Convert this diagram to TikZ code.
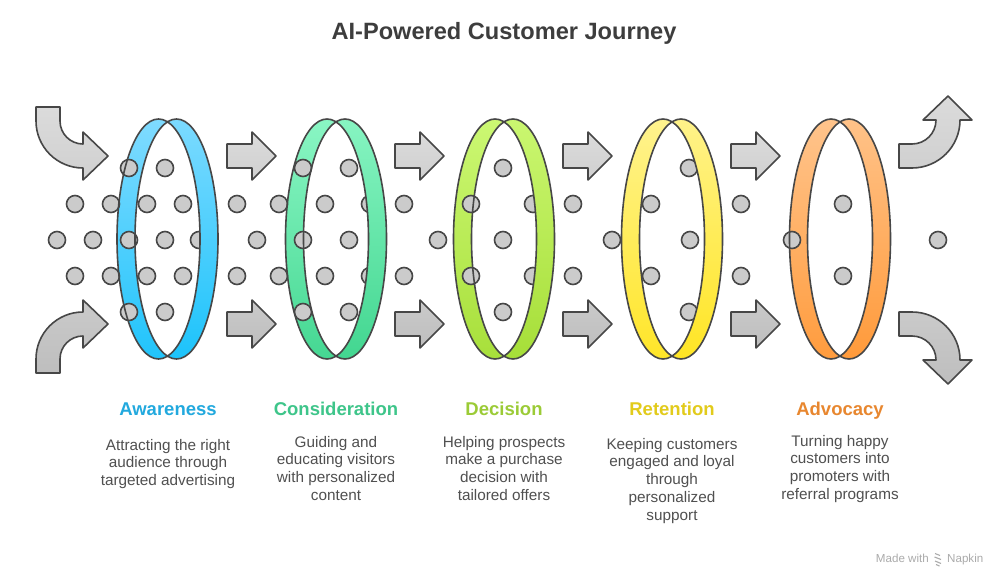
\documentclass[tikz,border=0pt]{standalone}
\usepackage{fontspec}
\setmainfont{Liberation Sans}
\definecolor{edgec}{HTML}{474747}
\definecolor{dotc}{HTML}{CBCBCB}
\definecolor{titlec}{HTML}{3D3D3D}
\definecolor{descc}{HTML}{505050}
\definecolor{markc}{HTML}{ABABAB}
\definecolor{upA}{HTML}{DBDBDB}
\definecolor{upB}{HTML}{D0D0D0}
\definecolor{loA}{HTML}{CACACA}
\definecolor{loB}{HTML}{BEBEBE}
\definecolor{blueA}{HTML}{80DBFF}
\definecolor{blueB}{HTML}{1CC3FB}
\definecolor{greenA}{HTML}{8AF6C4}
\definecolor{greenB}{HTML}{42D690}
\definecolor{limeA}{HTML}{CCF873}
\definecolor{limeB}{HTML}{A6DE38}
\definecolor{yelA}{HTML}{FFF38E}
\definecolor{yelB}{HTML}{FFE524}
\definecolor{oraA}{HTML}{FFC48C}
\definecolor{oraB}{HTML}{FF9A3A}
\definecolor{lblblue}{HTML}{22A9DE}
\definecolor{lblgreen}{HTML}{3EC58A}
\definecolor{lbllime}{HTML}{9BCB36}
\definecolor{lblyel}{HTML}{E2CB1B}
\definecolor{lblora}{HTML}{E8872F}
\tikzset{
  outl/.style={draw=edgec, line width=1.6pt, line join=round},
  dotnode/.style={circle, fill=dotc, draw=edgec, line width=1.6pt, minimum size=17pt, inner sep=0pt},
  uparrow/.style={outl, top color=upA, bottom color=upB},
  loarrow/.style={outl, top color=loA, bottom color=loB},
  stagelabel/.style={font=\bfseries\fontsize{18.5}{22}\selectfont, anchor=base, inner sep=0pt},
  desc/.style={font=\fontsize{15.3}{17.7}\selectfont, color=descc, align=center, anchor=north, inner sep=0pt},
}
% ring pieces: #1 = centre x, #2 top colour, #3 bottom colour
\newcommand\ringLeftBand[3]{%
  \shade[top color=#2, bottom color=#3] (#1,356.2)
    arc[start angle=77.47, end angle=282.53, x radius=41.5, y radius=120]
    arc[start angle=257.47, end angle=102.53, x radius=41.5, y radius=120] -- cycle;}
\newcommand\ringRightBand[3]{%
  \shade[top color=#2, bottom color=#3] (#1,121.8)
    arc[start angle=-102.53, end angle=102.53, x radius=41.5, y radius=120]
    arc[start angle=77.47, end angle=-77.47, x radius=41.5, y radius=120] -- cycle;}
\newcommand\ringOutline[1]{%
  \draw[outl] (#1-9,239) ellipse[x radius=41.5, y radius=120];
  \draw[outl] (#1+9,239) ellipse[x radius=41.5, y radius=120];}
\newcommand\straightArrow[3]{% x0, centre y, style
  \path[#3] (#1,#2-12) -- (#1+25,#2-12) -- (#1+25,#2-24) -- (#1+49,#2) -- (#1+25,#2+24) -- (#1+25,#2+12) -- (#1,#2+12) -- cycle;}
\begin{document}
\begin{tikzpicture}[x=1pt,y=-1pt]
\useasboundingbox (0,0) rectangle (1008,586);
\fill[white] (0,0) rectangle (1008,586);

% title
\node[font=\bfseries\fontsize{23.6}{28}\selectfont, color=titlec, anchor=base, inner sep=0pt] (title) at (504,39.5) {AI-Powered Customer Journey};

% curved arrows
\path[uparrow] (36,107) -- (60,107) -- (60,121) arc[start angle=180, end angle=90, radius=23]
  -- (83,132) -- (108,156) -- (83,180) -- (83,168) arc[start angle=90, end angle=180, radius=47] -- cycle;
\path[loarrow] (36,373) -- (60,373) -- (60,359) arc[start angle=180, end angle=270, radius=23]
  -- (83,348) -- (108,324) -- (83,300) -- (83,312) arc[start angle=270, end angle=180, radius=47] -- cycle;
\path[uparrow] (899,144) -- (912,144) arc[start angle=90, end angle=0, radius=24]
  -- (923,120) -- (948,96) -- (972,120) -- (960,120) arc[start angle=0, end angle=90, radius=48] -- (899,168) -- cycle;
\path[loarrow] (899,336) -- (912,336) arc[start angle=270, end angle=360, radius=24]
  -- (923,360) -- (948,384) -- (972,360) -- (960,360) arc[start angle=360, end angle=270, radius=48] -- (899,312) -- cycle;

% straight arrows
\foreach \ax in {227,395,563,731} {
  \straightArrow{\ax}{156}{uparrow}
  \straightArrow{\ax}{324}{loarrow}
}

% back (left) bands of the rings
\ringLeftBand{167.5}{blueA}{blueB}
\ringLeftBand{336}{greenA}{greenB}
\ringLeftBand{504}{limeA}{limeB}
\ringLeftBand{672}{yelA}{yelB}
\ringLeftBand{840}{oraA}{oraB}

% dots
\foreach \dx/\dy [count=\i] in {
  57/240, 93/240, 129/240, 165/240, 199/240,
  75/204, 111/204, 147/204, 183/204, 237/204,
  75/276, 111/276, 147/276, 183/276, 237/276,
  129/168, 165/168, 129/312, 165/312,
  257/240, 303/240, 349/240, 438/240,
  279/204, 325/204, 370/204, 404/204,
  279/276, 325/276, 370/276, 404/276,
  303/168, 349/168, 303/312, 349/312,
  471/204, 533/204, 573/204, 503/240, 471/276, 533/276, 573/276, 503/168, 503/312,
  612/240, 690/240, 651/204, 741/204, 651/276, 741/276, 689/168, 689/312,
  792/240, 843/204, 843/276, 938/240} {
  \node[dotnode] (dot\i) at (\dx,\dy) {};
}

% front (right) bands and outlines
\ringRightBand{167.5}{blueA}{blueB}
\ringRightBand{336}{greenA}{greenB}
\ringRightBand{504}{limeA}{limeB}
\ringRightBand{672}{yelA}{yelB}
\ringRightBand{840}{oraA}{oraB}
\ringOutline{167.5}
\ringOutline{336}
\ringOutline{504}
\ringOutline{672}
\ringOutline{840}

% labels
\node[stagelabel, color=lblblue] (lab1) at (168,415) {Awareness};
\node[stagelabel, color=lblgreen] (lab2) at (336,415) {Consideration};
\node[stagelabel, color=lbllime] (lab3) at (504,415) {Decision};
\node[stagelabel, color=lblyel] (lab4) at (672,415) {Retention};
\node[stagelabel, color=lblora] (lab5) at (840,415) {Advocacy};

\node[desc] (desc1) at (168,438) {\rule{0pt}{12pt}Attracting the right\\audience through\\targeted advertising};
\node[desc] (desc2) at (336,435) {\rule{0pt}{12pt}Guiding and\\educating visitors\\with personalized\\content};
\node[desc] (desc3) at (504,435) {\rule{0pt}{12pt}Helping prospects\\make a purchase\\decision with\\tailored offers};
\node[desc] (desc4) at (672,437) {\rule{0pt}{12pt}Keeping customers\\engaged and loyal\\through\\personalized\\support};
\node[desc] (desc5) at (840,434) {\rule{0pt}{12pt}Turning happy\\customers into\\promoters with\\referral programs};

% made with napkin
\node[font=\fontsize{11.6}{14}\selectfont, color=markc, anchor=base east, inner sep=0pt] (made) at (929,562) {Made with};
\node[font=\fontsize{11.6}{14}\selectfont, color=markc, anchor=base west, inner sep=0pt] (napkin) at (947,562) {Napkin};
\draw[markc, line width=1.1pt] (935,553.5) -- (940,555.5) (934.5,557) -- (941,559.5) (935,561) -- (941,563.5) (936,564.5) -- (939.5,566);
\end{tikzpicture}
\end{document}
